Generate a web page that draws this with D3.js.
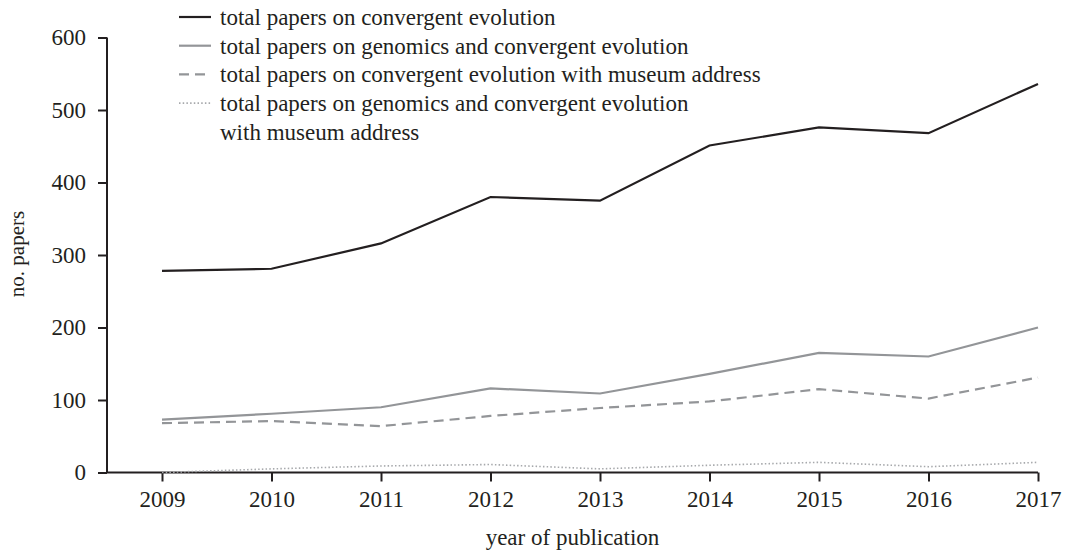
<!DOCTYPE html>
<html>
<head>
<meta charset="utf-8">
<script src="https://cdn.jsdelivr.net/npm/d3@7"></script>
<style>
	body { margin: 0; background: #fff; }
	text { font-family: "Liberation Serif", "DejaVu Serif", serif; fill: #231f20; }
</style>
</head>
<body>
<script>
var years = [2009, 2010, 2011, 2012, 2013, 2014, 2015, 2016, 2017];
var yTicks = [0, 100, 200, 300, 400, 500, 600];

var totalPapers = [278, 281, 316, 380, 375, 451, 476, 468, 536];
var genomicsPapers = [73, 81, 90, 116, 109, 136, 165, 160, 200];
var museumPapers = [68, 71, 64, 78, 89, 98, 115, 102, 131];
var genomicsMuseumPapers = [0, 5, 9, 11, 5, 10, 14, 8, 14];

var seriesNames = [
	["total papers on convergent evolution"],
	["total papers on genomics and convergent evolution"],
	["total papers on convergent evolution with museum address"],
	["total papers on genomics and convergent evolution", "with museum address"]
];

var w = 1065, h = 553;
var plot_left = 107, plot_right = 1038, plot_top = 37.5, plot_bottom = 472.5;

var series = [
	{ values: totalPapers, color: "#231f20", dash: null, width: 2.2 },
	{ values: genomicsPapers, color: "#939598", dash: null, width: 2.2 },
	{ values: museumPapers, color: "#939598", dash: "10,6", width: 2.2 },
	{ values: genomicsMuseumPapers, color: "#a7a9ac", dash: "1.5,2.2", width: 1.6 }
];
series.forEach(function(s, i) { s.names = seriesNames[i]; });

var svg = d3.select("body").append("svg")
	.attr("width", w)
	.attr("height", h);

var x = d3.scalePoint().domain(years).range([162, plot_right]);
var y = d3.scaleLinear().domain([0, 600]).range([plot_bottom, plot_top]);

// axes
var xAxis = svg.append("g")
	.attr("transform", "translate(0," + plot_bottom + ")")
	.call(d3.axisBottom(x).tickSize(9).tickPadding(9));
xAxis.select(".domain").attr("d", "M" + plot_left + ",0H" + plot_right);

var yAxis = svg.append("g")
	.attr("transform", "translate(" + plot_left + ",0)")
	.call(d3.axisLeft(y).tickValues(yTicks).tickSize(9).tickPadding(12));
yAxis.select(".domain").attr("d", "M0," + plot_top + "V" + plot_bottom);

svg.selectAll(".domain, .tick line")
	.attr("stroke", "#231f20")
	.attr("stroke-width", 2);
svg.selectAll(".tick text")
	.style("font-size", "23px")
	.attr("fill", "#231f20");

// axis titles
svg.append("text")
	.attr("x", (plot_left + plot_right) / 2)
	.attr("y", 545)
	.attr("text-anchor", "middle")
	.style("font-size", "23px")
	.text("year of publication");

svg.append("text")
	.attr("transform", "translate(24,254) rotate(-90)")
	.attr("text-anchor", "middle")
	.style("font-size", "21px")
	.text("no. papers");

// lines
var line = d3.line()
	.x(function(d, i) { return x(years[i]); })
	.y(function(d) { return y(d); });

series.slice().reverse().forEach(function(s) {
	svg.append("path")
		.attr("d", line(s.values))
		.attr("fill", "none")
		.attr("stroke", s.color)
		.attr("stroke-width", s.width)
		.attr("stroke-dasharray", s.dash);
});

// legend
var legendY = 17, rowH = 28.7;
var row = 0;
series.forEach(function(s) {
	var ly = legendY + row * rowH;
	svg.append("line")
		.attr("x1", 179).attr("x2", 211)
		.attr("y1", ly).attr("y2", ly)
		.attr("stroke", s.color)
		.attr("stroke-width", s.width)
		.attr("stroke-dasharray", s.dash);
	s.names.forEach(function(t, k) {
		svg.append("text")
			.attr("x", 220)
			.attr("y", ly + k * rowH + 8)
			.style("font-size", "23px")
			.text(t);
	});
	row += s.names.length;
});
</script>
</body>
</html>
